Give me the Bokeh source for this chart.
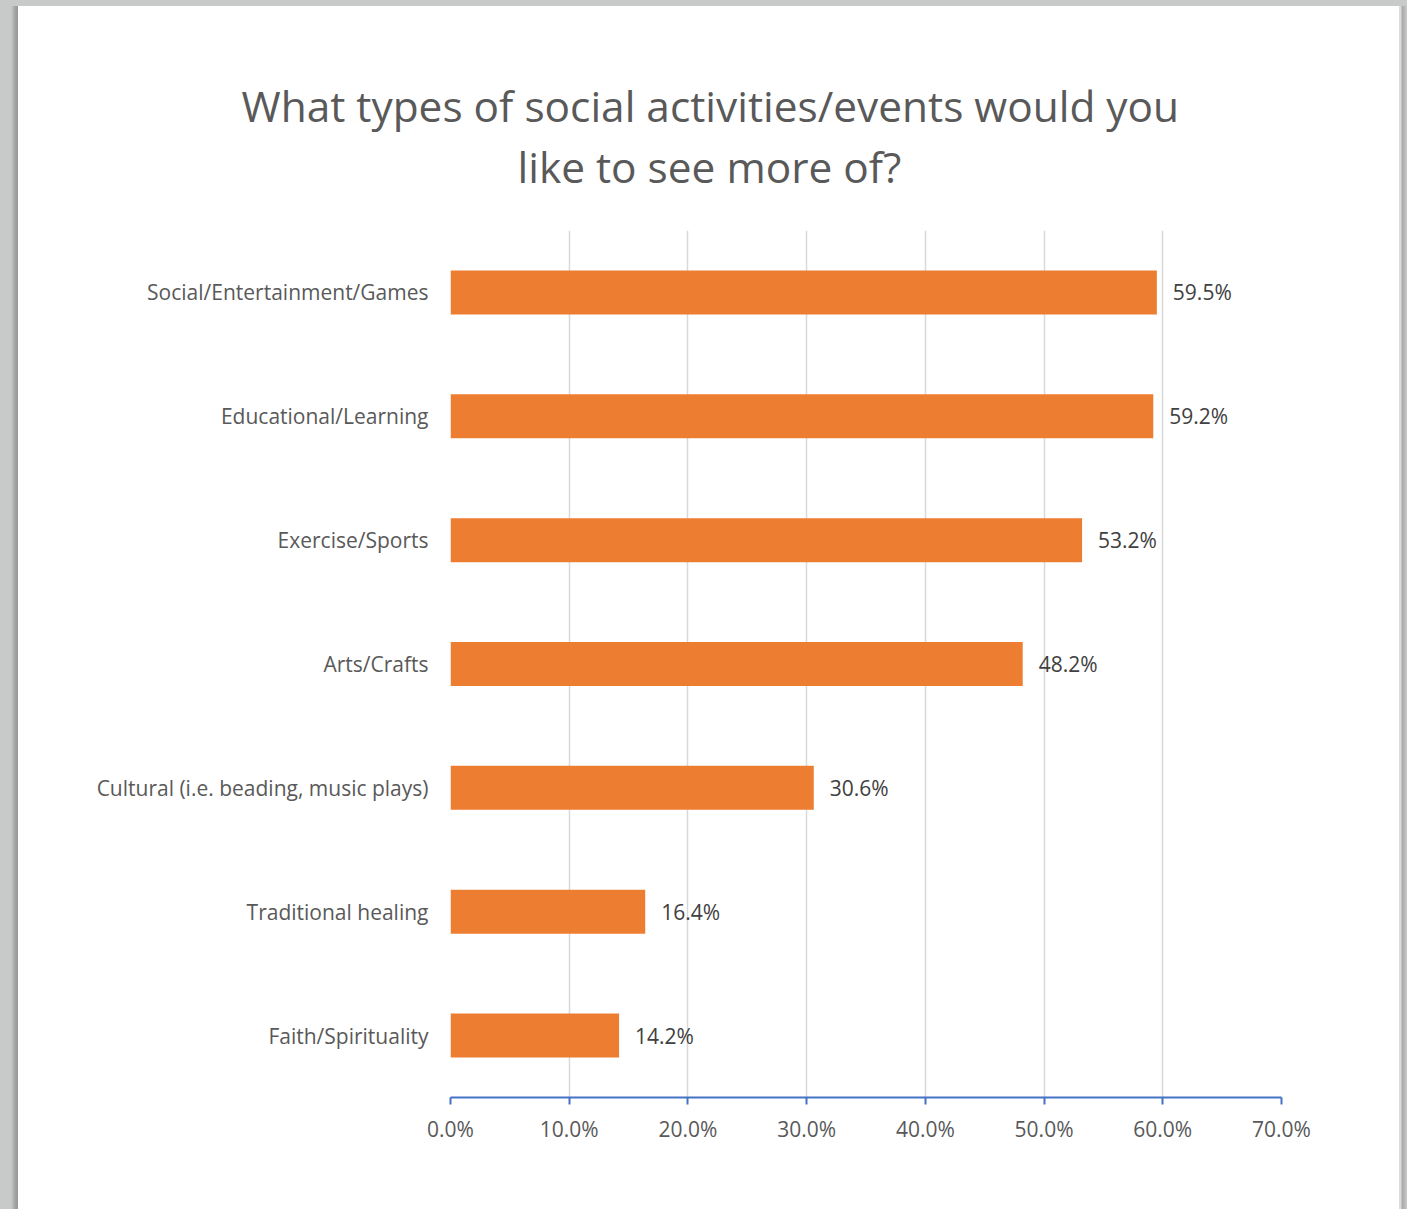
from bokeh.plotting import figure
from bokeh.models import (FactorRange, Range1d, FixedTicker, PrintfTickFormatter,
                          Title, ColumnDataSource, Div)
from bokeh.layouts import row, column
from bokeh.core.properties import value
from bokeh.embed import file_html
from bokeh.resources import INLINE

# ---- data ----
categories = ["Social/Entertainment/Games", "Educational/Learning", "Exercise/Sports",
              "Arts/Crafts", "Cultural (i.e. beading, music plays)", "Traditional healing",
              "Faith/Spirituality"]
percentages = [59.5, 59.2, 53.2, 48.2, 30.6, 16.4, 14.2]
tick_values = [0, 10, 20, 30, 40, 50, 60, 70]
title_lines = ["What types of social activities/events would you", "like to see more of?"]

FONT = "Open Sans"
TEXT_COLOR = "#595959"
BAR_COLOR = "#ED7D31"
PAGE_GRAY = "#c8c9c9"

W, H = 1381, 1203
ML, MR, MT, MB = 432, 118, 224, 112

src = ColumnDataSource(dict(
    cat=categories,
    val=percentages,
    lab=["%.1f%%" % v for v in percentages],
))

p = figure(width=W, height=H, output_backend="svg", toolbar_location=None,
           y_range=FactorRange(factors=list(reversed(categories))),
           x_range=Range1d(0, 70),
           min_border_left=ML, min_border_right=MR, min_border_top=MT, min_border_bottom=MB)
p.outline_line_color = None
p.background_fill_color = "white"
p.border_fill_color = "white"

p.hbar(y="cat", right="val", left=0, height=0.355, source=src,
       fill_color=BAR_COLOR, line_color=None)
p.text(x="val", y="cat", text="lab", source=src, x_offset=16,
       text_baseline="middle", text_align="left",
       text_font=value(FONT), text_font_size="21px", text_color="#404040")

# x axis
p.xaxis.ticker = FixedTicker(ticks=tick_values)
p.xaxis.formatter = PrintfTickFormatter(format="%.1f%%")
p.xaxis.axis_line_color = "#4472C4"
p.xaxis.axis_line_width = 2
p.xaxis.major_tick_line_color = "#4472C4"
p.xaxis.major_tick_line_width = 2
p.xaxis.major_tick_out = 7
p.xaxis.major_tick_in = 0
p.xaxis.minor_tick_line_color = None
p.xaxis.major_label_text_font = FONT
p.xaxis.major_label_text_font_size = "21px"
p.xaxis.major_label_text_color = TEXT_COLOR
p.xaxis.major_label_standoff = 10

# y axis
p.yaxis.axis_line_color = None
p.yaxis.major_tick_line_color = None
p.yaxis.minor_tick_line_color = None
p.yaxis.major_label_text_font = FONT
p.yaxis.major_label_text_font_size = "21px"
p.yaxis.major_label_text_color = TEXT_COLOR
p.yaxis.major_label_standoff = 16

p.xgrid.grid_line_color = "#D9D9D9"
p.xgrid.grid_line_width = 1.5
p.ygrid.grid_line_color = None

# two-line title, each line placed so it is centred over the card
p.title.text = title_lines[0]
p.title.align = "left"
p.title.offset = -209
p.title.standoff = -66
p.title.text_font = FONT
p.title.text_font_size = "42.4px"
p.title.text_font_style = "normal"
p.title.text_color = TEXT_COLOR

t2 = Title(text=title_lines[1], align="left", offset=67, standoff=71,
           text_font=FONT, text_font_size="42.4px", text_font_style="normal",
           text_color=TEXT_COLOR)
p.add_layout(t2, "above")

# grey page around the white card
top_strip = Div(width=1407, height=6, margin=(0, 0, 0, 0),
                styles={"background": PAGE_GRAY})
left_strip = Div(width=18, height=H, margin=(0, 0, 0, 0),
                 styles={"background": "linear-gradient(to right, %s 0px, %s 11px, #a4a4a4 15px, #969696 18px)"
                         % (PAGE_GRAY, PAGE_GRAY)})
right_strip = Div(width=8, height=H, margin=(0, 0, 0, 0),
                  styles={"background": "linear-gradient(to right, #dcdcdc 0px, #dcdcdc 2px, #a8a8a8 3px, %s 8px)"
                          % PAGE_GRAY})

layout = column(top_strip, row(left_strip, p, right_strip, spacing=0), spacing=0)
open("out.html", "w").write(file_html(layout, INLINE))
